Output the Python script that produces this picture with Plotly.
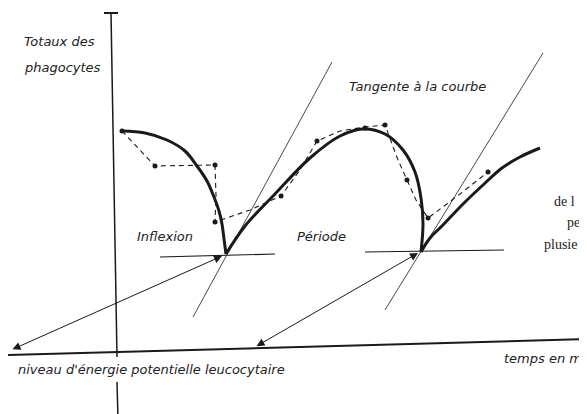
import plotly.graph_objects as go

# ---- data (diagram coordinates, y grows downward) ----
curve1_x = [122, 145, 167, 185, 197, 207, 214, 219, 222, 224, 226]
curve1_y = [131, 133, 140, 151, 166, 181, 197, 211, 224, 239, 254]

curve2_x = [226, 245, 275, 310, 340, 363, 385, 403, 415, 421, 423, 421]
curve2_y = [254, 226, 194, 158, 136, 129, 134, 150, 172, 198, 224, 252]

curve3_x = [421, 430, 442, 463, 483, 502, 520, 540]
curve3_y = [252, 238, 226, 204, 185, 168, 157, 148]

dash_x = [122, 155, 215, 216, 215, 250, 281, 300, 317, 340, 365, 385, 398, 407, 416, 428, 460, 488]
dash_y = [131, 166, 165, 195, 222, 210, 196, 170, 141, 131, 127, 125, 160, 180, 200, 218, 194, 172]

mark_x = [122, 155, 215, 215, 281, 317, 365, 385, 407, 428, 488]
mark_y = [131, 166, 165, 222, 196, 141, 128, 125, 180, 218, 172]

tangent1_x = [193, 332]
tangent1_y = [317, 62]
tangent2_x = [385, 543]
tangent2_y = [310, 53]

hline1_x = [160, 275]
hline1_y = [257, 254]
hline2_x = [365, 504]
hline2_y = [252, 250]

haxis_x = [8, 590]
haxis_y = [355, 339]
vaxis_upper_x = [111, 117]
vaxis_upper_y = [13, 357]
vaxis_lower_x = [117, 118]
vaxis_lower_y = [382, 420]
vcap_x = [104, 118]
vcap_y = [13, 13]

arrows = [  # (head x, head y, tail x, tail y)
    (222, 256, 11, 350),
    (418, 253, 255, 347),
]

labels = [
    ("Totaux des", 22, 41),
    ("phagocytes", 22, 67),
    ("Tangente à la courbe", 347, 86),
    ("Inflexion", 135, 236),
    ("Période", 295, 236),
    ("niveau d'énergie potentielle leucocytaire", 16, 369),
    ("temps en m", 502, 358),
]
side_text = [
    ("de l", 552, 201),
    ("pe", 565, 222),
    ("plusie", 542, 244),
]

# the page body has an 8px margin; offset the visible range so that
# diagram coordinates land on the same page pixels as the reference
OFF = 8
INK = "#1a1a1a"
fig = go.Figure()

def line(xs, ys, width, color=INK, dash="solid", shape="linear"):
    fig.add_trace(go.Scatter(x=xs, y=ys, mode="lines",
                             line=dict(color=color, width=width, dash=dash, shape=shape),
                             hoverinfo="skip", showlegend=False))

line(haxis_x, haxis_y, 2)
line(vaxis_upper_x, vaxis_upper_y, 1.5)
line(vaxis_lower_x, vaxis_lower_y, 1.5)
line(vcap_x, vcap_y, 2)
line(tangent1_x, tangent1_y, 0.9, color="#333")
line(tangent2_x, tangent2_y, 0.9, color="#333")
line(hline1_x, hline1_y, 1.2)
line(hline2_x, hline2_y, 1.2)
line(dash_x, dash_y, 1.1, dash="5px,4px")
line(curve1_x, curve1_y, 3, shape="spline")
line(curve2_x, curve2_y, 3, shape="spline")
line(curve3_x, curve3_y, 3, shape="spline")
fig.add_trace(go.Scatter(x=mark_x, y=mark_y, mode="markers",
                         marker=dict(color=INK, size=5, symbol="circle"),
                         hoverinfo="skip", showlegend=False))

for hx, hy, tx, ty in arrows:
    fig.add_annotation(x=hx, y=hy, ax=tx, ay=ty, xref="x", yref="y",
                       axref="x", ayref="y", text="", showarrow=True,
                       arrowhead=2, arrowside="end+start", arrowsize=1.6,
                       arrowwidth=1, arrowcolor=INK)

for txt, x, y in labels:
    fig.add_annotation(x=x, y=y, xref="x", yref="y", text=txt, showarrow=False,
                       xanchor="left", yanchor="middle",
                       font=dict(family="DejaVu Sans", size=13, color="#222",
                                 style="italic"))
for txt, x, y in side_text:
    fig.add_annotation(x=x, y=y, xref="x", yref="y", text=txt, showarrow=False,
                       xanchor="left", yanchor="middle",
                       font=dict(family="Liberation Serif", size=14, color="#222"))

fig.update_layout(width=587, height=414, margin=dict(l=0, r=0, t=0, b=0),
                  paper_bgcolor="white", plot_bgcolor="white",
                  xaxis=dict(range=[OFF, 587 + OFF], visible=False, fixedrange=True),
                  yaxis=dict(range=[414 + OFF, OFF], visible=False, fixedrange=True))
fig.write_html("out.html")
